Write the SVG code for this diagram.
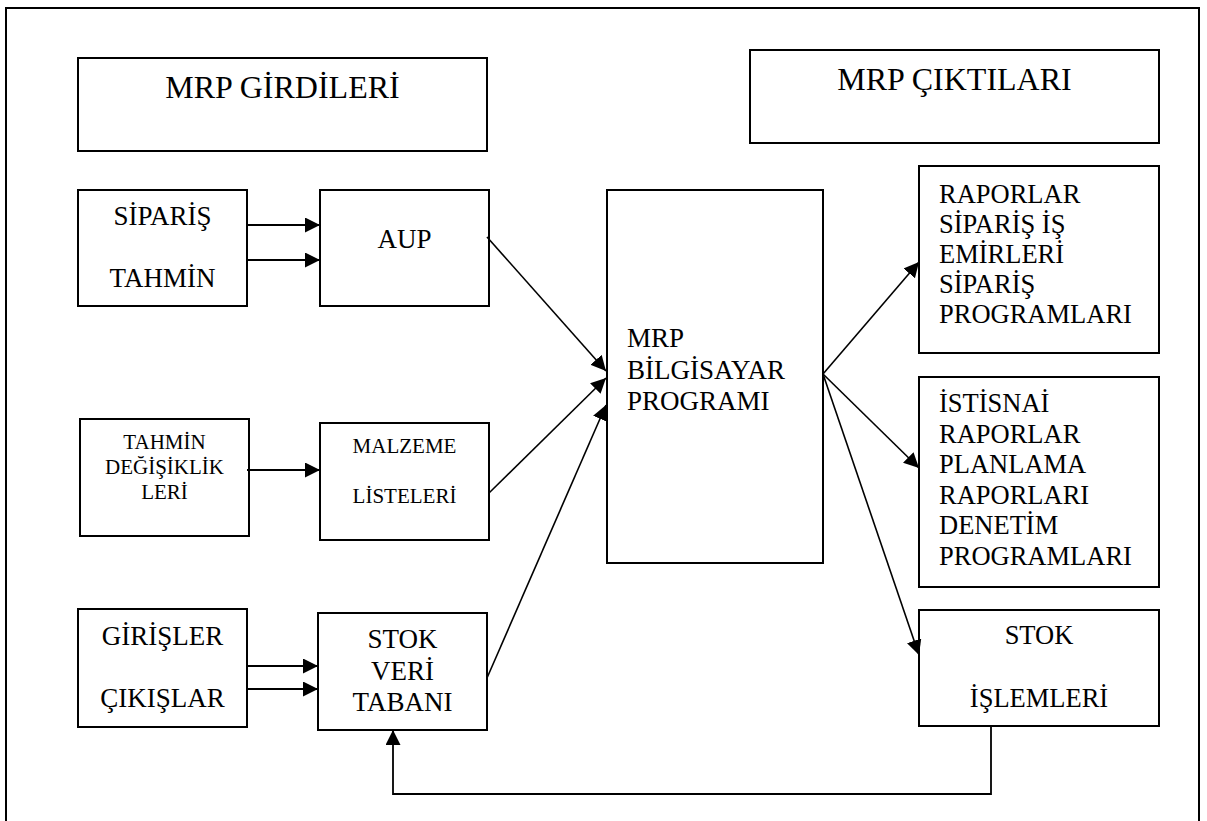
<svg xmlns="http://www.w3.org/2000/svg" width="1207" height="821" viewBox="0 0 1207 821">
  <defs>
    <marker id="head" markerUnits="userSpaceOnUse" markerWidth="16" markerHeight="15" refX="15" refY="7.5" orient="auto">
      <path d="M0,0 L15,7.5 L0,15 Z" fill="#000"/>
    </marker>
  </defs>

  <rect width="1207" height="821" fill="#fff"/>
  <!-- page frame, open at the bottom -->
  <path d="M6,830 V8 H1199 V830" fill="none" stroke="#000" stroke-width="2"/>

  <g font-family="Liberation Serif" fill="#000">
    <g id="girdiler-title" font-size="32" text-anchor="middle">
      <rect x="78" y="58" width="409" height="93" fill="#fff" stroke="#000" stroke-width="2"/>
      <text x="282.5" y="98" fill="#000">MRP GİRDİLERİ</text>
    </g>

    <g id="ciktilar-title" font-size="32" text-anchor="middle">
      <rect x="750" y="50" width="409" height="93" fill="#fff" stroke="#000" stroke-width="2"/>
      <text x="954.5" y="90" fill="#000">MRP ÇIKTILARI</text>
    </g>

    <g id="siparis-tahmin" font-size="27" text-anchor="middle">
      <rect x="78" y="190" width="169" height="116" fill="#fff" stroke="#000" stroke-width="2"/>
      <text x="162.5" y="225" fill="#000">SİPARİŞ</text>
      <text x="162.5" y="287" fill="#000">TAHMİN</text>
    </g>

    <g id="aup" font-size="27" text-anchor="middle">
      <rect x="320" y="190" width="169" height="116" fill="#fff" stroke="#000" stroke-width="2"/>
      <text x="404.5" y="248" fill="#000">AUP</text>
    </g>

    <g id="tahmin-degisiklik" font-size="21" text-anchor="middle">
      <rect x="80" y="419" width="169" height="117" fill="#fff" stroke="#000" stroke-width="2"/>
      <text x="164.5" y="449" fill="#000">TAHMİN</text>
      <text x="164.5" y="474" fill="#000">DEĞİŞİKLİK</text>
      <text x="164.5" y="499" fill="#000">LERİ</text>
    </g>

    <g id="malzeme-listeleri" font-size="21" text-anchor="middle">
      <rect x="320" y="423" width="169" height="117" fill="#fff" stroke="#000" stroke-width="2"/>
      <text x="404.5" y="453" fill="#000">MALZEME</text>
      <text x="404.5" y="503" fill="#000">LİSTELERİ</text>
    </g>

    <g id="giris-cikis" font-size="27" text-anchor="middle">
      <rect x="78" y="609" width="169" height="118" fill="#fff" stroke="#000" stroke-width="2"/>
      <text x="162.5" y="645" fill="#000">GİRİŞLER</text>
      <text x="162.5" y="707" fill="#000">ÇIKIŞLAR</text>
    </g>

    <g id="stok-veri-tabani" font-size="27" text-anchor="middle">
      <rect x="318" y="613" width="169" height="117" fill="#fff" stroke="#000" stroke-width="2"/>
      <text x="402.5" y="648" fill="#000">STOK</text>
      <text x="402.5" y="680" fill="#000">VERİ</text>
      <text x="402.5" y="711" fill="#000">TABANI</text>
    </g>

    <g id="mrp-program" font-size="27">
      <rect x="607" y="190" width="216" height="373" fill="#fff" stroke="#000" stroke-width="2"/>
      <text x="627" y="347" fill="#000">MRP</text>
      <text x="627" y="379" fill="#000">BİLGİSAYAR</text>
      <text x="627" y="410" fill="#000">PROGRAMI</text>
    </g>

    <g id="raporlar" font-size="26.5">
      <rect x="919" y="166" width="240" height="187" fill="#fff" stroke="#000" stroke-width="2"/>
      <text x="939" y="203" fill="#000">RAPORLAR</text>
      <text x="939" y="233" fill="#000">SİPARİŞ İŞ</text>
      <text x="939" y="263" fill="#000">EMİRLERİ</text>
      <text x="939" y="293" fill="#000">SİPARİŞ</text>
      <text x="939" y="323" fill="#000">PROGRAMLARI</text>
    </g>

    <g id="istisnai-raporlar" font-size="26.5">
      <rect x="919" y="377" width="240" height="210" fill="#fff" stroke="#000" stroke-width="2"/>
      <text x="939" y="412" fill="#000">İSTİSNAİ</text>
      <text x="939" y="442.6" fill="#000">RAPORLAR</text>
      <text x="939" y="473.2" fill="#000">PLANLAMA</text>
      <text x="939" y="503.8" fill="#000">RAPORLARI</text>
      <text x="939" y="534.4" fill="#000">DENETİM</text>
      <text x="939" y="565" fill="#000">PROGRAMLARI</text>
    </g>

    <g id="stok-islemleri" font-size="26.5" text-anchor="middle">
      <rect x="919" y="610" width="240" height="116" fill="#fff" stroke="#000" stroke-width="2"/>
      <text x="1039" y="644" fill="#000">STOK</text>
      <text x="1039" y="707" fill="#000">İŞLEMLERİ</text>
    </g>
  </g>

  <g id="connectors" fill="none" stroke="#000" stroke-width="1.6" marker-end="url(#head)">
    <!-- inputs into first-level boxes -->
    <line x1="247" y1="225" x2="320" y2="225" stroke-width="1.8"/>
    <line x1="247" y1="260" x2="320" y2="260" stroke-width="1.8"/>
    <line x1="247" y1="470" x2="320" y2="470" stroke-width="1.8"/>
    <line x1="247" y1="666" x2="318" y2="666" stroke-width="1.8"/>
    <line x1="247" y1="689" x2="318" y2="689" stroke-width="1.8"/>
    <!-- into the MRP program -->
    <line x1="487" y1="237" x2="606" y2="371"/>
    <line x1="489" y1="493" x2="606" y2="378"/>
    <line x1="487" y1="678" x2="606" y2="405"/>
    <!-- outputs -->
    <line x1="823" y1="374" x2="919" y2="262"/>
    <line x1="823" y1="374" x2="919" y2="468"/>
    <line x1="823" y1="374" x2="919" y2="655"/>
    <!-- feedback from stock transactions to the stock database -->
    <path d="M991,726 V794 H393 V730" stroke-width="1.8"/>
  </g>
</svg>
